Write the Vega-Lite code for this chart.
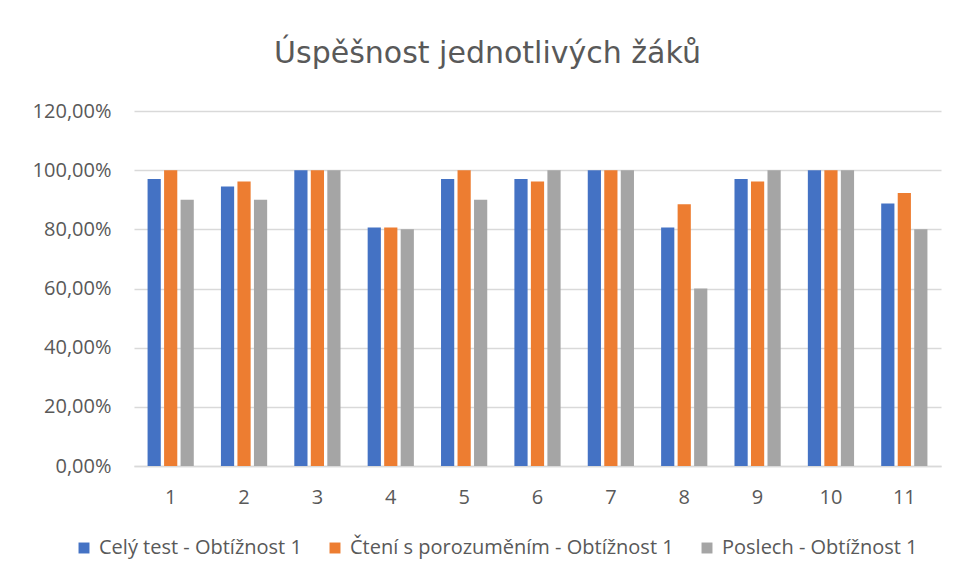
{
  "$schema": "https://vega.github.io/schema/vega-lite/v6.json",
  "autosize": "none",
  "width": 807,
  "height": 355,
  "padding": {"left": 134, "top": 111, "right": 17, "bottom": 115},
  "background": "white",
  "title": {
    "text": "Úspěšnost jednotlivých žáků",
    "anchor": "middle",
    "frame": "group",
    "font": "DejaVu Sans",
    "fontSize": 30,
    "fontWeight": "normal",
    "color": "#595959",
    "offset": 32,
    "dx": -50
  },
  "data": {
    "values": [
      {"zak": "1", "serie": "Celý test - Obtížnost 1", "hodnota": 0.97},
      {"zak": "1", "serie": "Čtení s porozuměním - Obtížnost 1", "hodnota": 1.0},
      {"zak": "1", "serie": "Poslech - Obtížnost 1", "hodnota": 0.9},
      {"zak": "2", "serie": "Celý test - Obtížnost 1", "hodnota": 0.945},
      {"zak": "2", "serie": "Čtení s porozuměním - Obtížnost 1", "hodnota": 0.962},
      {"zak": "2", "serie": "Poslech - Obtížnost 1", "hodnota": 0.9},
      {"zak": "3", "serie": "Celý test - Obtížnost 1", "hodnota": 1.0},
      {"zak": "3", "serie": "Čtení s porozuměním - Obtížnost 1", "hodnota": 1.0},
      {"zak": "3", "serie": "Poslech - Obtížnost 1", "hodnota": 1.0},
      {"zak": "4", "serie": "Celý test - Obtížnost 1", "hodnota": 0.806},
      {"zak": "4", "serie": "Čtení s porozuměním - Obtížnost 1", "hodnota": 0.806},
      {"zak": "4", "serie": "Poslech - Obtížnost 1", "hodnota": 0.8},
      {"zak": "5", "serie": "Celý test - Obtížnost 1", "hodnota": 0.97},
      {"zak": "5", "serie": "Čtení s porozuměním - Obtížnost 1", "hodnota": 1.0},
      {"zak": "5", "serie": "Poslech - Obtížnost 1", "hodnota": 0.9},
      {"zak": "6", "serie": "Celý test - Obtížnost 1", "hodnota": 0.97},
      {"zak": "6", "serie": "Čtení s porozuměním - Obtížnost 1", "hodnota": 0.962},
      {"zak": "6", "serie": "Poslech - Obtížnost 1", "hodnota": 1.0},
      {"zak": "7", "serie": "Celý test - Obtížnost 1", "hodnota": 1.0},
      {"zak": "7", "serie": "Čtení s porozuměním - Obtížnost 1", "hodnota": 1.0},
      {"zak": "7", "serie": "Poslech - Obtížnost 1", "hodnota": 1.0},
      {"zak": "8", "serie": "Celý test - Obtížnost 1", "hodnota": 0.806},
      {"zak": "8", "serie": "Čtení s porozuměním - Obtížnost 1", "hodnota": 0.885},
      {"zak": "8", "serie": "Poslech - Obtížnost 1", "hodnota": 0.6},
      {"zak": "9", "serie": "Celý test - Obtížnost 1", "hodnota": 0.97},
      {"zak": "9", "serie": "Čtení s porozuměním - Obtížnost 1", "hodnota": 0.962},
      {"zak": "9", "serie": "Poslech - Obtížnost 1", "hodnota": 1.0},
      {"zak": "10", "serie": "Celý test - Obtížnost 1", "hodnota": 1.0},
      {"zak": "10", "serie": "Čtení s porozuměním - Obtížnost 1", "hodnota": 1.0},
      {"zak": "10", "serie": "Poslech - Obtížnost 1", "hodnota": 1.0},
      {"zak": "11", "serie": "Celý test - Obtížnost 1", "hodnota": 0.887},
      {"zak": "11", "serie": "Čtení s porozuměním - Obtížnost 1", "hodnota": 0.923},
      {"zak": "11", "serie": "Poslech - Obtížnost 1", "hodnota": 0.8}
    ]
  },
  "mark": {"type": "bar"},
  "encoding": {
    "x": {
      "field": "zak",
      "type": "ordinal",
      "sort": null,
      "scale": {"paddingInner": 0.37, "paddingOuter": 0.185},
      "axis": {
        "title": null,
        "labelAngle": 0,
        "labelFont": "Open Sans",
        "labelFontSize": 20,
        "labelColor": "#595959",
        "labelPadding": 21,
        "ticks": false,
        "domainColor": "#d9d9d9",
        "domainWidth": 1.5,
        "grid": false
      }
    },
    "xOffset": {
      "field": "serie",
      "type": "nominal",
      "sort": null,
      "scale": {"paddingInner": 0.2, "paddingOuter": 0}
    },
    "y": {
      "field": "hodnota",
      "type": "quantitative",
      "scale": {"domain": [0, 1.2], "nice": false},
      "axis": {
        "title": null,
        "values": [0, 0.2, 0.4, 0.6, 0.8, 1.0, 1.2],
        "labelExpr": "replace(format(datum.value, '.2%'), '.', ',')",
        "labelFont": "Open Sans",
        "labelFontSize": 20,
        "labelColor": "#595959",
        "labelPadding": 23,
        "ticks": false,
        "domain": false,
        "gridColor": "#d9d9d9",
        "gridWidth": 1.5
      }
    },
    "color": {
      "field": "serie",
      "type": "nominal",
      "sort": null,
      "scale": {
        "domain": ["Celý test - Obtížnost 1", "Čtení s porozuměním - Obtížnost 1", "Poslech - Obtížnost 1"],
        "range": ["#4472C4", "#ED7D31", "#A5A5A5"]
      },
      "legend": {
        "title": null,
        "orient": "none",
        "legendX": -60,
        "legendY": 427,
        "direction": "horizontal",
        "symbolType": "square",
        "symbolSize": 120,
        "symbolStrokeWidth": 0,
        "labelFont": "Open Sans",
        "labelFontSize": 20,
        "labelColor": "#595959",
        "labelLimit": 400,
        "columnPadding": 23,
        "labelOffset": 5
      }
    }
  },
  "config": {"view": {"stroke": null}}
}
